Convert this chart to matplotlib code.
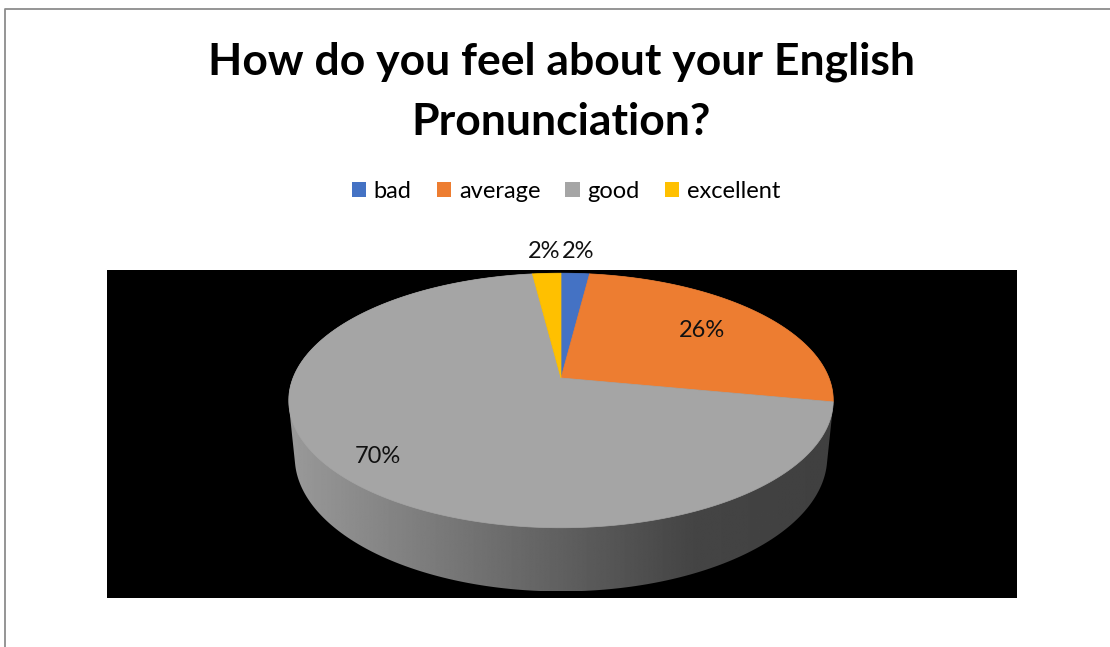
import numpy as np
import matplotlib.pyplot as plt
from matplotlib.patches import Polygon, Rectangle, Patch

categories = ['bad', 'average', 'good', 'excellent']
shares = [2, 26, 70, 2]
colors = ['#4472C4', '#ED7D31', '#A5A5A5', '#FFC000']
title = 'How do you feel about your English\nPronunciation?'

# perspective camera for the tilted pie (unit disc, top face at z=0)
cx, cy = 561, 378
focal = 1348
dist = 5.03
elev = np.radians(27.4)
thick = 0.24
label_r = [1.25, 0.7, 0.84, 1.25]


def project(X, Y, Z=0.0):
    d = dist + Y * np.cos(elev) - Z * np.sin(elev)
    v = Y * np.sin(elev) + Z * np.cos(elev)
    return cx + focal * X / d, cy - focal * v / d


def rim(phi, r=1.0, Z=0.0):
    return project(r * np.cos(phi), r * np.sin(phi), Z)


def convex_hull(pts):
    pts = sorted(map(tuple, pts))

    def half(seq):
        out = []
        for p in seq:
            while len(out) >= 2 and ((out[-1][0] - out[-2][0]) * (p[1] - out[-2][1])
                                     - (out[-1][1] - out[-2][1]) * (p[0] - out[-2][0])) <= 0:
                out.pop()
            out.append(p)
        return out

    lower = half(pts)
    upper = half(pts[::-1])
    return np.array(lower[:-1] + upper[:-1])


fig = plt.figure(figsize=(11.1, 6.47), dpi=100)
ax = fig.add_axes([0, 0, 1, 1])
plt.rcParams['font.family'] = ['Lato', 'DejaVu Sans']

# black plot area
ax.add_patch(Rectangle((107, 270), 910, 328, facecolor='black', edgecolor='none', zorder=0))

# side wall of the pie: hull of top and bottom rims, shaded left to right
t = np.linspace(0, 2 * np.pi, 720)
tx, ty = rim(t)
bx, by = rim(t, Z=-thick)
side = convex_hull(np.column_stack([np.r_[tx, bx], np.r_[ty, by]]))
side_patch = Polygon(side, closed=True, facecolor='none', edgecolor='none')
ax.add_patch(side_patch)
x0, x1 = side[:, 0].min(), side[:, 0].max()
y0, y1 = side[:, 1].min(), side[:, 1].max()
gx = np.linspace(x0, x1, 500)
shade = np.interp(gx, [290, 690, 833], [0.60, 0.27, 0.25])
img = ax.imshow(np.tile(shade, (2, 1)), cmap='gray', vmin=0, vmax=1,
                extent=[x0, x1, y1, y0], aspect='auto', interpolation='bilinear', zorder=0.5)
img.set_clip_path(side_patch)

# top face slices, clockwise from 12 o'clock
total = sum(shares)
start = 0.0
for name, val, col, lr in zip(categories, shares, colors, label_r):
    c0 = start / total * 360
    c1 = (start + val) / total * 360
    phi = np.radians(90 - np.linspace(c0, c1, 200))
    px, py = rim(phi)
    verts = np.column_stack([np.r_[cx, px], np.r_[cy, py]])
    ax.add_patch(Polygon(verts, closed=True, facecolor=col, edgecolor=col, lw=0.5, zorder=1))
    mid = np.radians(90 - (c0 + c1) / 2)
    lx, ly = rim(mid, r=lr)
    ax.text(lx, ly, f'{val}%', ha='center', va='center', fontsize=17, color='#111111')
    start += val

ax.text(561, 41, title, ha='center', va='top', fontsize=32, fontweight='bold',
        linespacing=1.62, color='black')

handles = [Patch(facecolor=c, edgecolor='none', label=n) for n, c in zip(categories, colors)]
ax.legend(handles=handles, loc='center', bbox_to_anchor=(566 / 1110, 1 - 191 / 647),
          ncol=4, frameon=False, fontsize=17, handlelength=0.6, handleheight=0.6,
          handletextpad=0.34, columnspacing=1.06)

# chart frame
ax.plot([4.5, 4.5, 1110], [647, 8.5, 8.5], color='#8c8c8c', lw=1.3)

ax.set_xlim(0, 1110)
ax.set_ylim(647, 0)
ax.axis('off')
fig.savefig('out.png', dpi=100)
